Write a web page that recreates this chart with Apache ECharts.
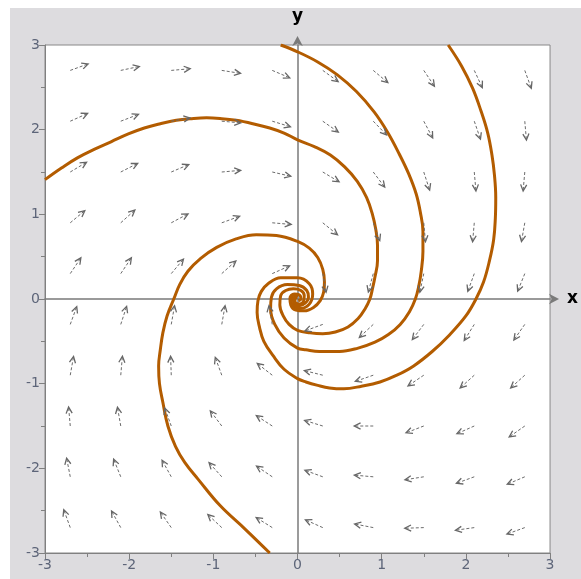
<!DOCTYPE html>
<html>
<head>
<meta charset="utf-8">
<script src="https://cdn.jsdelivr.net/npm/echarts@6/dist/echarts.min.js"></script>
<style>
html, body { margin: 0; padding: 0; background: #fff; }
#chart { position: absolute; left: 10px; top: 8px; width: 571px; height: 571px; }
</style>
</head>
<body>
<div id="chart"></div>
<script>
// grid of the direction field (arrow tails)
const gridX = [-2.7, -2.1, -1.5, -0.9, -0.3, 0.3, 0.9, 1.5, 2.1, 2.7]
const gridY = [2.7, 2.1, 1.5, 0.9, 0.3, -0.3, -0.9, -1.5, -2.1, -2.7]

// arrow directions in degrees, one row per gridY value
const fieldAngles = [
  [20, 12, 5, -9, -23, -36, -40, -56, -65, -70],
  [24, 21, 10, -5, -17, -35, -46, -62, -71, -85],
  [31, 27, 23, 5, -13, -31, -53, -72, -85, -95],
  [40, 42, 28, 20, -5, -39, -70, -85, -95, -100],
  [56, 56, 50, 42, 24, -80, -105, -102, -110, -112],
  [70, 72, 80, 80, 100, 200, 223, 233, 238, 235],
  [80, 85, 92, 110, 142, 166, 199, 214, 222, 222],
  [95, 100, 110, 127, 147, 163, 180, 201, 204, 215],
  [101, 112, 119, 132, 146, 160, 175, 189, 200, 203],
  [110, 119, 125, 137, 148, 156, 169, 182, 188, 200]
]

// solution curves, points
const curveA = [
  [-3, 1.41], [-2.8, 1.55], [-2.61, 1.67], [-2.41, 1.77], [-2.21, 1.86], [-2.01, 1.95],
  [-1.82, 2.02], [-1.63, 2.07], [-1.44, 2.11], [-1.26, 2.13], [-1.08, 2.14], [-0.9, 2.13],
  [-0.73, 2.11], [-0.53, 2.07], [-0.33, 2.02], [-0.16, 1.96], [0, 1.88], [0.2, 1.8],
  [0.39, 1.7], [0.56, 1.56], [0.71, 1.39], [0.82, 1.2], [0.89, 1.0], [0.93, 0.82],
  [0.95, 0.64], [0.95, 0.45], [0.92, 0.26], [0.89, 0.12], [0.86, 0], [0.8, -0.12],
  [0.72, -0.23], [0.6, -0.33], [0.45, -0.39], [0.3, -0.41], [0.15, -0.4], [0, -0.37],
  [-0.1, -0.3], [-0.17, -0.2], [-0.21, -0.07], [-0.2, 0.04], [-0.14, 0.1], [-0.05, 0.12],
  [0.04, 0.1], [0.08, 0.04], [0.07, -0.03], [0.02, -0.06], [-0.03, -0.03], [-0.03, 0.01], [0, 0.02]
]
const curveB = [
  [-0.2, 3], [0, 2.92], [0.24, 2.8], [0.47, 2.65], [0.7, 2.45], [0.91, 2.21],
  [1.07, 1.97], [1.21, 1.71], [1.32, 1.48], [1.41, 1.24], [1.46, 1.02], [1.49, 0.8],
  [1.49, 0.56], [1.47, 0.33], [1.44, 0.15], [1.4, 0], [1.33, -0.15], [1.22, -0.3],
  [1.08, -0.42], [0.92, -0.51], [0.72, -0.58], [0.5, -0.62], [0.26, -0.62], [0.1, -0.6],
  [0, -0.58], [-0.16, -0.46], [-0.27, -0.3], [-0.32, -0.12], [-0.31, 0.02], [-0.25, 0.12],
  [-0.12, 0.17], [0.02, 0.16], [0.11, 0.1], [0.13, 0.02], [0.09, -0.05], [0.02, -0.08],
  [-0.04, -0.05], [-0.05, 0.01], [-0.01, 0.03]
]
const curveC = [
  [1.79, 3], [1.95, 2.75], [2.08, 2.49], [2.18, 2.22], [2.26, 1.96], [2.31, 1.7],
  [2.34, 1.46], [2.355, 1.2], [2.35, 0.95], [2.33, 0.7], [2.28, 0.45], [2.21, 0.2],
  [2.12, 0], [2.0, -0.2], [1.8, -0.43], [1.6, -0.62], [1.38, -0.79], [1.18, -0.9],
  [0.98, -0.98], [0.76, -1.03], [0.55, -1.06], [0.38, -1.05], [0.24, -1.02], [0.1, -0.98],
  [0, -0.94], [-0.16, -0.83], [-0.29, -0.67], [-0.4, -0.5], [-0.45, -0.34], [-0.48, -0.16],
  [-0.47, -0.02], [-0.43, 0.09], [-0.35, 0.18], [-0.2, 0.25], [0, 0.25], [0.14, 0.18],
  [0.18, 0.06], [0.14, -0.06], [0.04, -0.11], [-0.05, -0.08], [-0.08, 0], [-0.04, 0.05], [0.01, 0.04]
]
const curveD = [
  [-0.33, -3], [-0.62, -2.72], [-0.92, -2.44], [-1.18, -2.13], [-1.34, -1.93], [-1.45, -1.74],
  [-1.54, -1.5], [-1.6, -1.22], [-1.64, -1.0], [-1.65, -0.79], [-1.63, -0.6], [-1.6, -0.4],
  [-1.55, -0.2], [-1.47, 0], [-1.4, 0.17], [-1.3, 0.33], [-1.15, 0.48], [-0.96, 0.61],
  [-0.73, 0.71], [-0.49, 0.76], [-0.25, 0.75], [0, 0.68], [0.14, 0.6], [0.24, 0.49],
  [0.3, 0.35], [0.32, 0.2], [0.31, 0.08], [0.27, -0.02], [0.19, -0.1], [0.08, -0.14],
  [-0.02, -0.13], [-0.08, -0.07], [-0.09, 0.01], [-0.04, 0.06], [0.02, 0.05], [0.04, 0], [0.01, -0.02]
]

const curveColor = '#b35c00'
const labelColor = '#5d6579'

const arrowData = []
gridY.forEach((y, j) => {
  gridX.forEach((x, i) => {
    arrowData.push([x, y, fieldAngles[j][i]])
  })
})

const renderArrow = (params, api) => {
  const p = api.coord([api.value(0), api.value(1)])
  const a = api.value(2) * Math.PI / 180
  const len = 19
  const tip = [p[0] + len * Math.cos(a), p[1] - len * Math.sin(a)]
  const head = s => {
    const b = a + Math.PI + s * 0.45
    return [tip[0] + 7 * Math.cos(b), tip[1] - 7 * Math.sin(b)]
  }
  return {
    type: 'group',
    children: [
      {
        type: 'line',
        shape: { x1: p[0], y1: p[1], x2: tip[0], y2: tip[1] },
        style: { stroke: '#6c6c6c', lineWidth: 1, lineDash: [3, 2] }
      },
      {
        type: 'polyline',
        shape: { points: [head(1), tip, head(-1)] },
        style: { stroke: '#666', lineWidth: 1.3, fill: null }
      }
    ]
  }
}

const curveSeries = [curveA, curveB, curveC, curveD].map(d => ({
  type: 'line',
  xAxisIndex: 0,
  yAxisIndex: 0,
  data: d,
  smooth: 0.4,
  showSymbol: false,
  silent: true,
  z: 3,
  lineStyle: { color: curveColor, width: 3 }
}))

const chart = echarts.init(document.getElementById('chart'))
chart.setOption({
  backgroundColor: '#dddcdf',
  animation: false,
  grid: {
    left: 35, top: 35, width: 510, height: 510,
    show: true, backgroundColor: '#fff', borderColor: '#888', borderWidth: 1
  },
  xAxis: [
    {
      type: 'value', min: -3, max: 3, interval: 1, position: 'bottom',
      axisLine: { show: true, onZero: false, lineStyle: { color: '#808080' } },
      axisTick: { show: true, length: 6, lineStyle: { color: '#808080' } },
      minorTick: { show: true, splitNumber: 2, length: 4, lineStyle: { color: '#808080' } },
      axisLabel: { color: labelColor, fontSize: 14, fontFamily: 'DejaVu Sans', margin: 5 },
      splitLine: { show: false }
    },
    {
      type: 'value', min: -3, max: 3, position: 'bottom',
      axisLine: {
        show: true, onZero: true, onZeroAxisIndex: 0,
        symbol: ['none', 'arrow'], symbolSize: [8, 10], symbolOffset: [0, 9],
        lineStyle: { color: '#7a7a7a', width: 1.5 }
      },
      axisTick: { show: false },
      axisLabel: { show: false },
      splitLine: { show: false },
      name: 'x', nameLocation: 'end', nameGap: 17,
      nameTextStyle: { color: '#000', fontSize: 17, fontWeight: 'bold', fontFamily: 'DejaVu Sans' }
    }
  ],
  yAxis: [
    {
      type: 'value', min: -3, max: 3, interval: 1, position: 'left',
      axisLine: { show: true, onZero: false, lineStyle: { color: '#808080' } },
      axisTick: { show: true, length: 6, lineStyle: { color: '#808080' } },
      minorTick: { show: true, splitNumber: 2, length: 4, lineStyle: { color: '#808080' } },
      axisLabel: { color: labelColor, fontSize: 14, fontFamily: 'DejaVu Sans', margin: 5 },
      splitLine: { show: false }
    },
    {
      type: 'value', min: -3, max: 3, position: 'left',
      axisLine: {
        show: true, onZero: true, onZeroAxisIndex: 0,
        symbol: ['none', 'arrow'], symbolSize: [8, 10], symbolOffset: [0, 9],
        lineStyle: { color: '#7a7a7a', width: 1.5 }
      },
      axisTick: { show: false },
      axisLabel: { show: false },
      splitLine: { show: false },
      name: 'y', nameLocation: 'end', nameGap: 20,
      nameTextStyle: { color: '#000', fontSize: 17, fontWeight: 'bold', fontFamily: 'DejaVu Sans' }
    }
  ],
  series: [
    ...curveSeries,
    {
      type: 'custom',
      xAxisIndex: 0,
      yAxisIndex: 0,
      data: arrowData,
      renderItem: renderArrow,
      silent: true,
      z: 4
    }
  ]
})
</script>
</body>
</html>
